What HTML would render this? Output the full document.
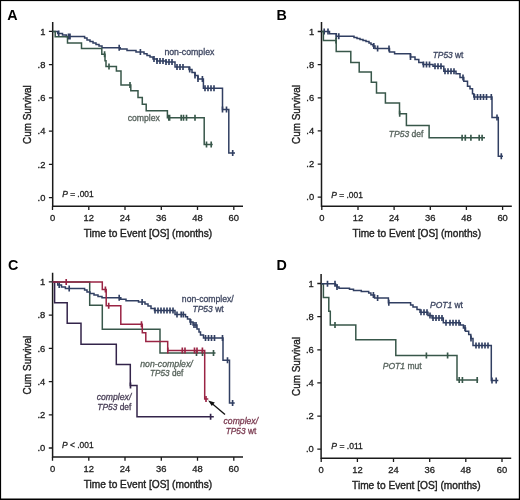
<!DOCTYPE html><html><head><meta charset="utf-8"><style>html,body{margin:0;padding:0;background:#fff;}svg{display:block;} .w{filter:blur(0.45px);width:520px;height:500px;overflow:hidden;} text{stroke-width:0.3px;}</style></head><body>
<div class="w">
<svg width="520" height="500" viewBox="0 0 520 500" font-family='"Liberation Sans", sans-serif'>
<rect x="0" y="0" width="520" height="500" fill="#fff"/>
<text x="7.3" y="19.5" font-weight="bold" font-size="14.3" fill="#000">A</text>
<path d="M52.7 22.0 V206.3 H243.0" fill="none" stroke="#1a1a1a" stroke-width="1.5"/>
<text x="45.4" y="34.6" font-size="9.4" text-anchor="end" fill="#222" stroke="#222">1</text>
<text x="45.4" y="67.8" font-size="9.4" text-anchor="end" fill="#222" stroke="#222">.8</text>
<text x="45.4" y="101.1" font-size="9.4" text-anchor="end" fill="#222" stroke="#222">.6</text>
<text x="45.4" y="134.3" font-size="9.4" text-anchor="end" fill="#222" stroke="#222">.4</text>
<text x="45.4" y="167.6" font-size="9.4" text-anchor="end" fill="#222" stroke="#222">.2</text>
<text x="45.4" y="200.8" font-size="9.4" text-anchor="end" fill="#222" stroke="#222">.0</text>
<text x="52.5" y="221.2" font-size="9.4" text-anchor="middle" fill="#222" stroke="#222">0</text>
<text x="88.8" y="221.2" font-size="9.4" text-anchor="middle" fill="#222" stroke="#222">12</text>
<text x="125.0" y="221.2" font-size="9.4" text-anchor="middle" fill="#222" stroke="#222">24</text>
<text x="161.3" y="221.2" font-size="9.4" text-anchor="middle" fill="#222" stroke="#222">36</text>
<text x="197.5" y="221.2" font-size="9.4" text-anchor="middle" fill="#222" stroke="#222">48</text>
<text x="233.8" y="221.2" font-size="9.4" text-anchor="middle" fill="#222" stroke="#222">60</text>
<path d="M48.9 31.4 H52.7 M48.9 64.6 H52.7 M48.9 97.9 H52.7 M48.9 131.1 H52.7 M48.9 164.4 H52.7 M48.9 197.6 H52.7 M52.5 206.3 V210.1 M88.8 206.3 V210.1 M125.0 206.3 V210.1 M161.3 206.3 V210.1 M197.5 206.3 V210.1 M233.8 206.3 V210.1 " fill="none" stroke="#1a1a1a" stroke-width="1.3"/>
<text x="148.0" y="237.3" font-size="11" text-anchor="middle" fill="#222" stroke="#222" style="stroke-width:0.4px" textLength="128.5" lengthAdjust="spacingAndGlyphs">Time to Event [OS] (months)</text>
<text transform="translate(31.2 114.6) rotate(-90)" font-size="11" text-anchor="middle" fill="#222" stroke="#222" style="stroke-width:0.4px" textLength="58.8" lengthAdjust="spacingAndGlyphs">Cum Survival</text>
<text x="62.2" y="197.3" font-size="9" fill="#222" stroke="#222" textLength="31.5" lengthAdjust="spacingAndGlyphs"><tspan font-style="italic">P</tspan> = .001</text>
<text x="276.6" y="19.5" font-weight="bold" font-size="14.3" fill="#000">B</text>
<path d="M321.5 22.0 V206.2 H511.8" fill="none" stroke="#1a1a1a" stroke-width="1.5"/>
<text x="314.2" y="34.7" font-size="9.4" text-anchor="end" fill="#222" stroke="#222">1</text>
<text x="314.2" y="67.8" font-size="9.4" text-anchor="end" fill="#222" stroke="#222">.8</text>
<text x="314.2" y="101.0" font-size="9.4" text-anchor="end" fill="#222" stroke="#222">.6</text>
<text x="314.2" y="134.1" font-size="9.4" text-anchor="end" fill="#222" stroke="#222">.4</text>
<text x="314.2" y="167.3" font-size="9.4" text-anchor="end" fill="#222" stroke="#222">.2</text>
<text x="314.2" y="200.4" font-size="9.4" text-anchor="end" fill="#222" stroke="#222">.0</text>
<text x="321.8" y="221.1" font-size="9.4" text-anchor="middle" fill="#222" stroke="#222">0</text>
<text x="358.0" y="221.1" font-size="9.4" text-anchor="middle" fill="#222" stroke="#222">12</text>
<text x="394.1" y="221.1" font-size="9.4" text-anchor="middle" fill="#222" stroke="#222">24</text>
<text x="430.3" y="221.1" font-size="9.4" text-anchor="middle" fill="#222" stroke="#222">36</text>
<text x="466.4" y="221.1" font-size="9.4" text-anchor="middle" fill="#222" stroke="#222">48</text>
<text x="502.6" y="221.1" font-size="9.4" text-anchor="middle" fill="#222" stroke="#222">60</text>
<path d="M317.7 31.5 H321.5 M317.7 64.6 H321.5 M317.7 97.8 H321.5 M317.7 130.9 H321.5 M317.7 164.1 H321.5 M317.7 197.2 H321.5 M321.8 206.2 V210.0 M358.0 206.2 V210.0 M394.1 206.2 V210.0 M430.3 206.2 V210.0 M466.4 206.2 V210.0 M502.6 206.2 V210.0 " fill="none" stroke="#1a1a1a" stroke-width="1.3"/>
<text x="416.8" y="237.2" font-size="11" text-anchor="middle" fill="#222" stroke="#222" style="stroke-width:0.4px" textLength="128.5" lengthAdjust="spacingAndGlyphs">Time to Event [OS] (months)</text>
<text transform="translate(300.0 114.5) rotate(-90)" font-size="11" text-anchor="middle" fill="#222" stroke="#222" style="stroke-width:0.4px" textLength="58.8" lengthAdjust="spacingAndGlyphs">Cum Survival</text>
<text x="331.3" y="197.7" font-size="9" fill="#222" stroke="#222" textLength="31.5" lengthAdjust="spacingAndGlyphs"><tspan font-style="italic">P</tspan> = .001</text>
<text x="7.9" y="269.5" font-weight="bold" font-size="14.3" fill="#000">C</text>
<path d="M52.6 272.7 V457.0 H243.0" fill="none" stroke="#1a1a1a" stroke-width="1.5"/>
<text x="45.3" y="285.1" font-size="9.4" text-anchor="end" fill="#222" stroke="#222">1</text>
<text x="45.3" y="318.3" font-size="9.4" text-anchor="end" fill="#222" stroke="#222">.8</text>
<text x="45.3" y="351.5" font-size="9.4" text-anchor="end" fill="#222" stroke="#222">.6</text>
<text x="45.3" y="384.8" font-size="9.4" text-anchor="end" fill="#222" stroke="#222">.4</text>
<text x="45.3" y="418.0" font-size="9.4" text-anchor="end" fill="#222" stroke="#222">.2</text>
<text x="45.3" y="451.2" font-size="9.4" text-anchor="end" fill="#222" stroke="#222">.0</text>
<text x="52.5" y="471.9" font-size="9.4" text-anchor="middle" fill="#222" stroke="#222">0</text>
<text x="88.8" y="471.9" font-size="9.4" text-anchor="middle" fill="#222" stroke="#222">12</text>
<text x="125.0" y="471.9" font-size="9.4" text-anchor="middle" fill="#222" stroke="#222">24</text>
<text x="161.3" y="471.9" font-size="9.4" text-anchor="middle" fill="#222" stroke="#222">36</text>
<text x="197.5" y="471.9" font-size="9.4" text-anchor="middle" fill="#222" stroke="#222">48</text>
<text x="233.8" y="471.9" font-size="9.4" text-anchor="middle" fill="#222" stroke="#222">60</text>
<path d="M48.8 281.9 H52.6 M48.8 315.1 H52.6 M48.8 348.3 H52.6 M48.8 381.6 H52.6 M48.8 414.8 H52.6 M48.8 448.0 H52.6 M52.5 457.0 V460.8 M88.8 457.0 V460.8 M125.0 457.0 V460.8 M161.3 457.0 V460.8 M197.5 457.0 V460.8 M233.8 457.0 V460.8 " fill="none" stroke="#1a1a1a" stroke-width="1.3"/>
<text x="148.0" y="488.0" font-size="11" text-anchor="middle" fill="#222" stroke="#222" style="stroke-width:0.4px" textLength="128.5" lengthAdjust="spacingAndGlyphs">Time to Event [OS] (months)</text>
<text transform="translate(31.1 365.2) rotate(-90)" font-size="11" text-anchor="middle" fill="#222" stroke="#222" style="stroke-width:0.4px" textLength="58.8" lengthAdjust="spacingAndGlyphs">Cum Survival</text>
<text x="62.1" y="447.9" font-size="9" fill="#222" stroke="#222" textLength="31.5" lengthAdjust="spacingAndGlyphs"><tspan font-style="italic">P</tspan> &lt; .001</text>
<text x="276.6" y="269.6" font-weight="bold" font-size="14.3" fill="#000">D</text>
<path d="M321.1 274.0 V458.2 H511.2" fill="none" stroke="#1a1a1a" stroke-width="1.5"/>
<text x="313.8" y="286.7" font-size="9.4" text-anchor="end" fill="#222" stroke="#222">1</text>
<text x="313.8" y="319.8" font-size="9.4" text-anchor="end" fill="#222" stroke="#222">.8</text>
<text x="313.8" y="353.0" font-size="9.4" text-anchor="end" fill="#222" stroke="#222">.6</text>
<text x="313.8" y="386.1" font-size="9.4" text-anchor="end" fill="#222" stroke="#222">.4</text>
<text x="313.8" y="419.3" font-size="9.4" text-anchor="end" fill="#222" stroke="#222">.2</text>
<text x="313.8" y="452.4" font-size="9.4" text-anchor="end" fill="#222" stroke="#222">.0</text>
<text x="321.2" y="473.1" font-size="9.4" text-anchor="middle" fill="#222" stroke="#222">0</text>
<text x="357.4" y="473.1" font-size="9.4" text-anchor="middle" fill="#222" stroke="#222">12</text>
<text x="393.5" y="473.1" font-size="9.4" text-anchor="middle" fill="#222" stroke="#222">24</text>
<text x="429.7" y="473.1" font-size="9.4" text-anchor="middle" fill="#222" stroke="#222">36</text>
<text x="465.8" y="473.1" font-size="9.4" text-anchor="middle" fill="#222" stroke="#222">48</text>
<text x="502.0" y="473.1" font-size="9.4" text-anchor="middle" fill="#222" stroke="#222">60</text>
<path d="M317.3 283.5 H321.1 M317.3 316.6 H321.1 M317.3 349.8 H321.1 M317.3 382.9 H321.1 M317.3 416.1 H321.1 M317.3 449.2 H321.1 M321.2 458.2 V462.0 M357.4 458.2 V462.0 M393.5 458.2 V462.0 M429.7 458.2 V462.0 M465.8 458.2 V462.0 M502.0 458.2 V462.0 " fill="none" stroke="#1a1a1a" stroke-width="1.3"/>
<text x="416.3" y="489.2" font-size="11" text-anchor="middle" fill="#222" stroke="#222" style="stroke-width:0.4px" textLength="128.5" lengthAdjust="spacingAndGlyphs">Time to Event [OS] (months)</text>
<text transform="translate(299.6 366.5) rotate(-90)" font-size="11" text-anchor="middle" fill="#222" stroke="#222" style="stroke-width:0.4px" textLength="58.8" lengthAdjust="spacingAndGlyphs">Cum Survival</text>
<text x="331.3" y="449.2" font-size="9" fill="#222" stroke="#222" textLength="31.5" lengthAdjust="spacingAndGlyphs"><tspan font-style="italic">P</tspan> = .011</text>
<path d="M52.7 31.5 H57.7 V33.5 H62.5 V35.0 H66.3 V36.5 H84.6 V38.0 H87.0 V40.0 H90.0 V41.5 H93.0 V43.0 H96.0 V44.5 H99.0 V46.0 H102.0 V47.7 H120.2 V49.0 H127.0 V50.4 H136.0 V52.0 H144.0 V53.8 H147.0 V55.5 H150.0 V57.0 H153.0 V59.0 H157.0 V61.0 H166.0 V62.0 H175.0 V67.0 H189.0 V69.5 H192.0 V72.5 H195.0 V75.5 H198.0 V79.0 H203.4 V88.2 H222.5 V109.5 H228.8 V153.0 H235.0" fill="none" stroke="#313f62" stroke-width="1.5" stroke-linejoin="miter" stroke-linecap="butt"/>
<path d="M58.7 30.5 V36.5 M68.5 33.5 V39.5 M70.0 33.5 V39.5 M119.2 44.7 V50.7 M140.4 49.0 V55.0 M154.0 56.0 V62.0 M157.0 58.0 V64.0 M160.0 58.0 V64.0 M163.0 58.0 V64.0 M166.0 59.0 V65.0 M169.0 59.0 V65.0 M172.0 59.0 V65.0 M177.0 64.0 V70.0 M180.0 64.0 V70.0 M183.0 64.0 V70.0 M189.7 66.5 V72.5 M195.0 72.5 V78.5 M198.0 76.0 V82.0 M202.4 76.0 V82.0 M205.0 85.2 V91.2 M208.0 85.2 V91.2 M211.0 85.2 V91.2 M214.0 85.2 V91.2 M222.5 106.5 V112.5 M226.5 106.5 V112.5 M232.7 150.0 V156.0 " fill="none" stroke="#313f62" stroke-width="1.65"/>
<path d="M52.7 31.5 H55.2 V36.8 H67.5 V43.0 H81.5 V48.5 H101.8 V54.2 H105.0 V60.7 H106.0 V66.5 H116.4 V71.0 H121.0 V85.0 H130.8 V90.8 H138.0 V97.6 H142.3 V104.2 H146.2 V110.8 H167.4 V117.8 H204.2 V144.6 H212.7" fill="none" stroke="#38574a" stroke-width="1.5" stroke-linejoin="miter" stroke-linecap="butt"/>
<path d="M104.6 51.2 V57.2 M109.0 63.5 V69.5 M130.0 82.0 V88.0 M168.8 114.8 V120.8 M169.6 114.8 V120.8 M181.2 114.8 V120.8 M183.5 114.8 V120.8 M186.5 114.8 V120.8 M195.0 114.8 V120.8 M206.5 141.6 V147.6 M211.2 141.6 V147.6 " fill="none" stroke="#38574a" stroke-width="1.65"/>
<path d="M321.6 31.5 H329.5 V33.7 H336.3 V36.2 H354.0 V37.5 H357.0 V38.5 H360.0 V39.5 H363.0 V40.5 H366.0 V41.5 H369.0 V43.0 H371.0 V44.5 H373.0 V46.0 H375.0 V48.5 H389.5 V52.0 H394.6 V53.8 H410.5 V57.0 H415.0 V59.5 H418.8 V62.5 H423.0 V64.5 H433.0 V66.3 H443.8 V71.3 H456.0 V73.8 H460.0 V77.5 H463.8 V81.3 H467.5 V86.3 H470.0 V88.8 H472.5 V93.8 H473.8 V97.0 H492.0 V117.5 H498.3 V156.3 H503.0" fill="none" stroke="#313f62" stroke-width="1.5" stroke-linejoin="miter" stroke-linecap="butt"/>
<path d="M324.2 28.5 V34.5 M328.0 28.5 V34.5 M336.3 33.2 V39.2 M338.8 33.2 V39.2 M373.8 43.0 V49.0 M377.6 45.5 V51.5 M389.0 45.5 V51.5 M410.5 54.0 V60.0 M423.5 61.5 V67.5 M426.5 61.5 V67.5 M429.5 61.5 V67.5 M435.0 63.3 V69.3 M438.0 63.3 V69.3 M441.0 63.3 V69.3 M445.0 68.3 V74.3 M448.0 68.3 V74.3 M451.0 68.3 V74.3 M454.0 68.3 V74.3 M463.0 74.5 V80.5 M474.5 94.0 V100.0 M477.5 94.0 V100.0 M480.5 94.0 V100.0 M483.5 94.0 V100.0 M486.5 94.0 V100.0 M491.3 94.0 V100.0 M497.0 114.5 V120.5 M501.3 153.3 V159.3 " fill="none" stroke="#313f62" stroke-width="1.65"/>
<path d="M321.6 31.5 H323.4 V40.4 H336.2 V51.5 H350.8 V62.5 H359.2 V72.0 H371.3 V82.3 H376.5 V93.0 H385.4 V103.0 H399.5 V113.8 H406.4 V125.6 H429.1 V137.7 H485.0" fill="none" stroke="#38574a" stroke-width="1.5" stroke-linejoin="miter" stroke-linecap="butt"/>
<path d="M336.0 37.4 V43.4 M399.7 110.8 V116.8 M462.1 134.7 V140.7 M465.3 134.7 V140.7 M470.9 134.7 V140.7 M479.2 134.7 V140.7 M482.1 134.7 V140.7 " fill="none" stroke="#38574a" stroke-width="1.65"/>
<path d="M52.6 281.9 H89.7 V305.3 H102.3 V329.2 H160.0 V353.0 H215.5" fill="none" stroke="#38574a" stroke-width="1.5" stroke-linejoin="miter" stroke-linecap="butt"/>
<path d="M196.5 350.0 V356.0 M202.5 350.0 V356.0 M213.5 350.0 V356.0 " fill="none" stroke="#38574a" stroke-width="1.65"/>
<path d="M52.6 281.9 H54.6 V302.7 H67.2 V323.2 H81.0 V344.2 H116.3 V364.6 H130.3 V385.6 H137.0 V416.7 H213.8" fill="none" stroke="#33244a" stroke-width="1.5" stroke-linejoin="miter" stroke-linecap="butt"/>
<path d="M130.5 382.6 V388.6 M210.6 413.7 V419.7 " fill="none" stroke="#33244a" stroke-width="1.65"/>
<path d="M52.6 281.9 H57.7 V285.0 H61.5 V287.0 H65.4 V288.5 H84.6 V290.0 H87.0 V292.0 H90.0 V293.5 H94.0 V295.0 H98.0 V296.5 H102.0 V297.7 H120.8 V299.2 H126.0 V300.8 H138.5 V302.0 H145.0 V304.0 H148.0 V306.0 H151.0 V308.5 H154.5 V310.4 H175.0 V314.6 H185.5 V316.7 H187.5 V319.0 H190.0 V322.0 H193.0 V325.0 H197.0 V329.0 H199.0 V332.0 H200.5 V335.0 H203.5 V338.0 H223.0 V360.2 H229.5 V403.1 H234.7" fill="none" stroke="#313f62" stroke-width="1.5" stroke-linejoin="miter" stroke-linecap="butt"/>
<path d="M59.2 282.0 V288.0 M69.2 285.5 V291.5 M119.2 294.7 V300.7 M142.1 299.0 V305.0 M155.0 307.4 V313.4 M158.0 307.4 V313.4 M161.0 307.4 V313.4 M164.0 307.4 V313.4 M167.0 307.4 V313.4 M170.0 307.4 V313.4 M173.0 307.4 V313.4 M177.0 311.6 V317.6 M181.2 311.6 V317.6 M183.3 311.6 V317.6 M190.7 319.0 V325.0 M194.0 322.0 V328.0 M196.0 322.0 V328.0 M205.5 335.0 V341.0 M208.5 335.0 V341.0 M211.5 335.0 V341.0 M214.5 335.0 V341.0 M222.5 335.0 V341.0 M227.5 357.2 V363.2 M232.6 400.1 V406.1 " fill="none" stroke="#313f62" stroke-width="1.65"/>
<path d="M52.6 281.9 H102.3 V289.6 H106.2 V305.8 H120.8 V324.2 H142.3 V332.8 H145.8 V341.5 H167.7 V350.6 H204.7 V399.0 H208.3" fill="none" stroke="#9a2444" stroke-width="1.5" stroke-linejoin="miter" stroke-linecap="butt"/>
<path d="M66.2 278.9 V284.9 M105.4 286.6 V292.6 M108.7 302.8 V308.8 M141.5 321.2 V327.2 M167.8 347.6 V353.6 M182.3 347.6 V353.6 M185.0 347.6 V353.6 M194.5 347.6 V353.6 M197.0 347.6 V353.6 M202.4 347.6 V353.6 M206.0 396.0 V402.0 " fill="none" stroke="#9a2444" stroke-width="1.65"/>
<path d="M321.2 283.9 H323.4 V297.6 H328.8 V311.2 H330.3 V325.0 H355.8 V339.8 H395.8 V355.6 H457.0 V380.0 H478.2" fill="none" stroke="#38574a" stroke-width="1.5" stroke-linejoin="miter" stroke-linecap="butt"/>
<path d="M335.0 322.0 V328.0 M426.4 352.6 V358.6 M447.6 352.6 V358.6 M459.2 377.0 V383.0 M462.4 377.0 V383.0 M477.2 377.0 V383.0 " fill="none" stroke="#38574a" stroke-width="1.65"/>
<path d="M321.2 283.7 H335.5 V285.5 H337.0 V287.0 H339.0 V288.2 H349.5 V289.3 H353.5 V290.4 H361.3 V291.5 H368.7 V293.0 H370.9 V295.0 H374.6 V297.9 H388.4 V302.8 H410.6 V305.0 H413.0 V307.0 H417.0 V309.5 H420.0 V312.2 H428.0 V315.5 H432.0 V318.0 H443.3 V322.8 H460.3 V324.9 H463.4 V328.0 H465.5 V331.2 H468.7 V334.4 H470.8 V338.6 H473.0 V345.4 H491.3 V380.5 H498.3" fill="none" stroke="#313f62" stroke-width="1.5" stroke-linejoin="miter" stroke-linecap="butt"/>
<path d="M327.5 280.7 V286.7 M335.0 280.7 V286.7 M337.0 284.0 V290.0 M373.4 292.0 V298.0 M377.6 294.9 V300.9 M388.8 299.8 V305.8 M421.0 309.2 V315.2 M424.0 309.2 V315.2 M427.0 309.2 V315.2 M430.0 312.5 V318.5 M433.0 315.0 V321.0 M436.0 315.0 V321.0 M439.0 315.0 V321.0 M442.0 315.0 V321.0 M446.0 319.8 V325.8 M450.0 319.8 V325.8 M453.0 319.8 V325.8 M456.0 319.8 V325.8 M459.0 319.8 V325.8 M465.0 325.0 V331.0 M471.0 335.6 V341.6 M476.0 342.4 V348.4 M479.0 342.4 V348.4 M482.0 342.4 V348.4 M485.0 342.4 V348.4 M488.0 342.4 V348.4 M492.0 377.5 V383.5 M496.2 377.5 V383.5 " fill="none" stroke="#313f62" stroke-width="1.65"/>
<text x="189.4" y="54.5" font-size="9" text-anchor="middle" fill="#3c4560" stroke="#3c4560" textLength="50.0" lengthAdjust="spacingAndGlyphs">non-complex</text>
<text x="143.8" y="120.5" font-size="9" text-anchor="middle" fill="#56625c" stroke="#56625c" textLength="32.3" lengthAdjust="spacingAndGlyphs">complex</text>
<text x="448.1" y="58.4" font-size="9" text-anchor="middle" fill="#3c4560" stroke="#3c4560" textLength="30.7" lengthAdjust="spacingAndGlyphs"><tspan font-style="italic">TP53</tspan> wt</text>
<text x="406.1" y="136.5" font-size="9" text-anchor="middle" fill="#56625c" stroke="#56625c" textLength="34.6" lengthAdjust="spacingAndGlyphs"><tspan font-style="italic">TP53</tspan> def</text>
<text x="207.8" y="301.8" font-size="9" text-anchor="middle" fill="#3e4660" stroke="#3e4660" textLength="51.9" lengthAdjust="spacingAndGlyphs">non-complex/</text>
<text x="208.1" y="312.0" font-size="9" text-anchor="middle" fill="#3e4660" stroke="#3e4660" textLength="31.2" lengthAdjust="spacingAndGlyphs"><tspan font-style="italic">TP53</tspan> wt</text>
<text x="166.5" y="366.5" font-size="9" text-anchor="middle" fill="#56625a" stroke="#56625a" textLength="52.5" lengthAdjust="spacingAndGlyphs"><tspan font-style="italic">non-complex/</tspan></text>
<text x="166.7" y="376.3" font-size="9" text-anchor="middle" fill="#56625a" stroke="#56625a" textLength="33.4" lengthAdjust="spacingAndGlyphs"><tspan font-style="italic">TP53</tspan> def</text>
<text x="114.0" y="399.8" font-size="9" text-anchor="middle" fill="#4a4058" stroke="#4a4058" textLength="34.6" lengthAdjust="spacingAndGlyphs"><tspan font-style="italic">complex/</tspan></text>
<text x="114.3" y="410.0" font-size="9" text-anchor="middle" fill="#4a4058" stroke="#4a4058" textLength="34.0" lengthAdjust="spacingAndGlyphs"><tspan font-style="italic">TP53</tspan> def</text>
<text x="240.8" y="423.9" font-size="9" text-anchor="middle" fill="#7a3a50" stroke="#7a3a50" textLength="34.5" lengthAdjust="spacingAndGlyphs"><tspan font-style="italic">complex/</tspan></text>
<text x="241.0" y="434.1" font-size="9" text-anchor="middle" fill="#7a3a50" stroke="#7a3a50" textLength="30.6" lengthAdjust="spacingAndGlyphs"><tspan font-style="italic">TP53</tspan> wt</text>
<text x="446.5" y="308.2" font-size="9" text-anchor="middle" fill="#3c4560" stroke="#3c4560" textLength="33.0" lengthAdjust="spacingAndGlyphs"><tspan font-style="italic">POT1</tspan> wt</text>
<text x="402.2" y="369.2" font-size="9" text-anchor="middle" fill="#56625c" stroke="#56625c" textLength="39.0" lengthAdjust="spacingAndGlyphs"><tspan font-style="italic">POT1</tspan> mut</text>
<path d="M225 414.4 L210.5 402.2" stroke="#111" stroke-width="1.3" fill="none"/>
<path d="M208.2 400.4 L214.8 402.6 L211.8 406.0 Z" fill="#111"/>
<rect x="0" y="0" width="520" height="1.1" fill="#000"/>
<rect x="0" y="0" width="1.1" height="500" fill="#000"/>
<rect x="518.8" y="0" width="1.2" height="500" fill="#000"/>
<rect x="0" y="498.5" width="520" height="1.5" fill="#000"/>
</svg></div></body></html>
